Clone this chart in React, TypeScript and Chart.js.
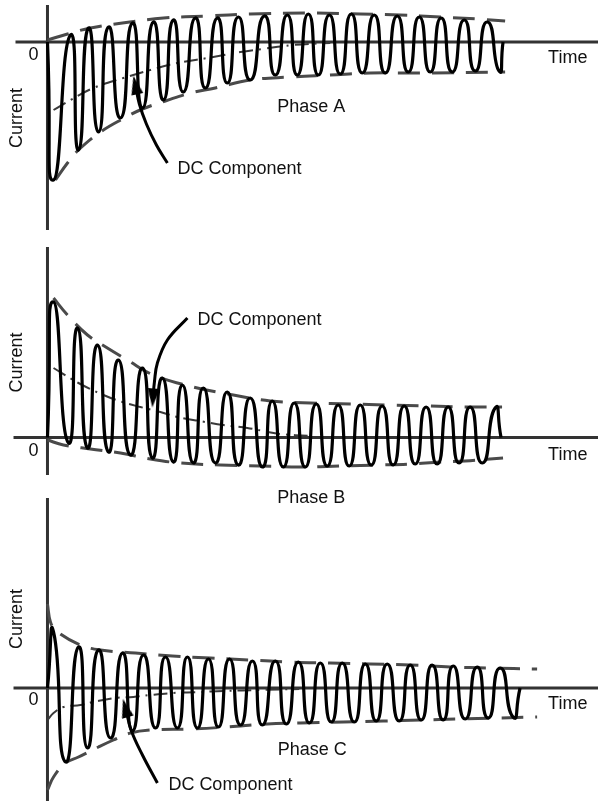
import { useEffect, useRef } from "react";
import { Chart, registerables } from "chart.js";

Chart.register(...registerables);

type P = [number, number]; // [time ms, current pu]

// ---------- Phase A ----------
const phaseAWave: P[] = [
  [0, 0], [5.5, -2.76], [20.9, 0.14], [28.2, -2.16], [37.3, 0.28], [46.4, -1.8], [55.5, 0.3],
  [66.4, -1.52], [77.3, 0.38], [86.4, -1.32], [96.4, 0.4], [105.5, -1.16], [114.5, 0.44],
  [123.6, -1.0], [134.5, 0.48], [143.6, -0.92], [154.5, 0.48], [163.6, -0.82], [173.6, 0.5],
  [184.5, -0.76], [197.3, 0.52], [207.3, -0.66], [218.2, 0.54], [227.3, -0.66], [237.3, 0.56],
  [246.4, -0.66], [256.4, 0.54], [266.4, -0.64], [276.4, 0.56], [286.4, -0.62], [297.3, 0.54],
  [307.3, -0.62], [318.2, 0.52], [328.2, -0.6], [338.2, 0.5], [348.2, -0.6], [358.2, 0.48],
  [368.2, -0.6], [379.1, 0.44], [389.1, -0.58], [400.0, 0.4], [410.9, -0.58], [414.5, 0],
];
const phaseAUpper: P[] = [
  [0, 0.04], [18.2, 0.16], [39.1, 0.28], [68.2, 0.38], [105.5, 0.48], [145.5, 0.52], [184.5, 0.56],
  [239.1, 0.58], [284.5, 0.56], [320.9, 0.54], [357.3, 0.5], [390.9, 0.46], [416.4, 0.42],
];
const phaseALower: P[] = [
  [7.3, -2.76], [18.2, -2.42], [28.2, -2.16], [48.2, -1.8], [68.2, -1.54], [86.4, -1.34],
  [107.3, -1.18], [130.0, -1.02], [152.7, -0.92], [184.5, -0.76], [220.9, -0.7], [257.3, -0.66],
  [293.6, -0.62], [339.1, -0.62], [416.4, -0.6],
];
const phaseADC: P[] = [
  [5.5, -1.36], [20.9, -1.16], [41.8, -0.92], [69.1, -0.72], [93.6, -0.56], [118.2, -0.42],
  [145.5, -0.32], [175.5, -0.2], [195.5, -0.14], [223.6, -0.06], [257.3, -0.02],
];
const phaseAArrow: P[] = [[109.1, -2.42], [99.1, -2.06], [90.0, -1.64], [83.6, -1.24], [80.0, -0.86]];

// ---------- Phase B ----------
const phaseBWave: P[] = [
  [0, 0], [5.5, 2.71], [19.1, -0.11], [27.3, 2.19], [36.4, -0.21], [45.5, 1.85], [55.5, -0.29],
  [64.5, 1.55], [75.5, -0.35], [86.4, 1.39], [95.5, -0.41], [104.5, 1.19], [114.5, -0.49],
  [122.7, 1.05], [132.7, -0.51], [141.8, 0.99], [152.7, -0.51], [163.6, 0.91], [173.6, -0.55],
  [184.5, 0.79], [195.5, -0.59], [204.5, 0.73], [214.5, -0.59], [224.5, 0.69], [234.5, -0.59],
  [244.5, 0.67], [254.5, -0.57], [264.5, 0.65], [274.5, -0.57], [284.5, 0.65], [294.5, -0.55],
  [304.5, 0.63], [314.5, -0.55], [324.5, 0.63], [334.5, -0.53], [344.5, 0.61], [354.5, -0.53],
  [364.5, 0.61], [374.5, -0.51], [384.5, 0.61], [395.5, -0.51], [407.3, 0.59], [412.7, 0],
];
const phaseBUpper: P[] = [
  [5.5, 2.79], [18.2, 2.45], [36.4, 2.05], [54.5, 1.79], [72.7, 1.55], [96.4, 1.25], [132.7, 1.01],
  [169.1, 0.85], [202.7, 0.73], [239.1, 0.69], [275.5, 0.67], [309.1, 0.65], [345.5, 0.63],
  [380.0, 0.61], [413.6, 0.61],
];
const phaseBLower: P[] = [
  [0, -0.05], [14.5, -0.15], [39.1, -0.23], [66.4, -0.31], [93.6, -0.43], [120.9, -0.51],
  [157.3, -0.55], [193.6, -0.57], [230.0, -0.59], [266.4, -0.57], [302.7, -0.55], [330.0, -0.53],
  [357.3, -0.49], [380.0, -0.47], [402.7, -0.43], [414.5, -0.41],
];
const phaseBDC: P[] = [
  [5.5, 1.39], [28.2, 1.09], [50.9, 0.85], [68.2, 0.71], [84.5, 0.61], [102.7, 0.51], [118.2, 0.41],
  [143.6, 0.31], [160.0, 0.25], [181.8, 0.19], [196.4, 0.13], [211.8, 0.07], [239.1, 0.03],
];
const phaseBArrow: P[] = [[127.3, 2.39], [109.1, 1.95], [100.0, 1.49], [97.3, 1.11], [96.0, 0.79]];

// ---------- Phase C ----------
const phaseCWave: P[] = [
  [0, 0], [5.5, 1.12], [16.4, -1.48], [28.2, 0.82], [36.4, -1.2], [46.4, 0.76], [57.3, -1.0],
  [68.2, 0.7], [77.3, -0.86], [87.3, 0.66], [98.2, -0.8], [107.3, 0.62], [118.2, -0.8],
  [127.3, 0.62], [136.4, -0.8], [146.4, 0.58], [155.5, -0.78], [165.5, 0.58], [175.5, -0.74],
  [186.4, 0.54], [195.5, -0.74], [207.3, 0.54], [217.3, -0.72], [228.2, 0.52], [238.2, -0.7],
  [248.2, 0.5], [258.2, -0.68], [268.2, 0.5], [279.1, -0.68], [289.1, 0.48], [299.1, -0.66],
  [309.1, 0.48], [320.0, -0.66], [330.0, 0.46], [340.0, -0.64], [350.0, 0.46], [360.0, -0.64],
  [369.1, 0.44], [380.0, -0.62], [390.9, 0.42], [400.9, -0.6], [411.8, 0.4], [423.6, -0.58], [430.0, 0],
];
const phaseCUpper: P[] = [
  [0, 1.68], [2.7, 1.32], [8.2, 1.14], [30.0, 0.86], [48.2, 0.76], [80.0, 0.7], [113.6, 0.64],
  [148.2, 0.6], [184.5, 0.56], [220.9, 0.52], [257.3, 0.5], [293.6, 0.48], [330.0, 0.46],
  [366.4, 0.42], [402.7, 0.4], [445.5, 0.38],
];
const phaseCLower: P[] = [
  [0, -2.04], [5.5, -1.78], [16.4, -1.5], [28.2, -1.38], [46.4, -1.18], [60.0, -1.04], [75.5, -0.9],
  [93.6, -0.84], [130.0, -0.82], [163.6, -0.78], [200.0, -0.72], [230.0, -0.7], [269.1, -0.68],
  [305.5, -0.66], [339.1, -0.64], [373.6, -0.62], [409.1, -0.6], [445.5, -0.58],
];
const phaseCDC: P[] = [
  [0, -0.64], [5.5, -0.5], [14.5, -0.38], [30.0, -0.34], [41.8, -0.28], [61.8, -0.2], [78.2, -0.18],
  [93.6, -0.14], [114.5, -0.1], [139.1, -0.08], [160.0, -0.06], [193.6, -0.04], [229.1, -0.02],
];
const phaseCArrow: P[] = [[100.0, -1.9], [86.4, -1.34], [76.4, -0.86], [70.9, -0.4]];

// ---------- texts ----------
const PHASE_NAMES = ["Phase A", "Phase B", "Phase C"];
const Y_TITLE = "Current";
const X_TITLE = "Time";
const ZERO_TICK = "0";
const DC_TEXT = "DC Component";

// ---------- scales / layout config ----------
const TIME_MIN = -43.2;
const TIME_MAX = 500.9;

const PANELS = [
  {
    axis: "yA", range: [-15.18, 0.84], wave: phaseAWave, upper: phaseAUpper, lower: phaseALower,
    dc: phaseADC, arrow: phaseAArrow, arrowRot: -12, vAxis: [0.74, -3.76], hStart: -29.1,
    nameAt: [240, -1.3], dcAt: [118.2, -2.54], zeroAt: [-12.7, -0.26], timeAt: [455.5, -0.32], currentAt: [-27.3, -1.52],
  },
  {
    axis: "yB", range: [-7.27, 8.75], wave: phaseBWave, upper: phaseBUpper, lower: phaseBLower,
    dc: phaseBDC, arrow: phaseBArrow, arrowRot: 184, vAxis: [3.81, -0.75], hStart: -30.9,
    nameAt: [240, -1.21], dcAt: [136.4, 2.35], zeroAt: [-12.7, -0.27], timeAt: [455.5, -0.35], currentAt: [-27.3, 1.5],
  },
  {
    axis: "yC", range: [-2.26, 13.76], wave: phaseCWave, upper: phaseCUpper, lower: phaseCLower,
    dc: phaseCDC, arrow: phaseCArrow, arrowRot: -15, vAxis: [3.8, -2.26], hStart: -30.9,
    nameAt: [240.9, -1.24], dcAt: [110, -1.94], zeroAt: [-12.7, -0.24], timeAt: [455.5, -0.32], currentAt: [-27.3, 1.38],
  },
];

const FONT = '18px "Liberation Sans", Arial, Helvetica, sans-serif';

function makeArrowHead(): HTMLCanvasElement {
  const c = document.createElement("canvas");
  c.width = 12;
  c.height = 19;
  const g = c.getContext("2d")!;
  g.fillStyle = "#000";
  g.beginPath();
  g.moveTo(6, 0);
  g.lineTo(12, 19);
  g.lineTo(0, 19);
  g.closePath();
  g.fill();
  return c;
}

const toXY = (pts: P[]) => pts.map(([x, y]) => ({ x, y }));

const textPlugin = {
  id: "panelText",
  afterDatasetsDraw(chart: any) {
    const ctx = chart.ctx as CanvasRenderingContext2D;
    const xs = chart.scales.x;
    ctx.save();
    ctx.fillStyle = "#111";
    ctx.font = FONT;
    ctx.textBaseline = "middle";
    PANELS.forEach((p, k) => {
      const ys = chart.scales[p.axis];
      const items: [string, number[], CanvasTextAlign, number][] = [
        [PHASE_NAMES[k], p.nameAt, "center", 0],
        [DC_TEXT, p.dcAt, "left", 0],
        [ZERO_TICK, p.zeroAt, "center", 0],
        [X_TITLE, p.timeAt, "left", 0],
        [Y_TITLE, p.currentAt, "center", -90],
      ];
      for (const [text, at, align, rot] of items) {
        ctx.save();
        ctx.translate(xs.getPixelForValue(at[0]), ys.getPixelForValue(at[1]));
        ctx.rotate((rot * Math.PI) / 180);
        ctx.textAlign = align;
        ctx.fillText(text, 0, 0);
        ctx.restore();
      }
    });
    ctx.restore();
  },
};

export default function App() {
  const ref = useRef<HTMLCanvasElement | null>(null);

  useEffect(() => {
    if (!ref.current) return;
    const head = makeArrowHead();
    const datasets: any[] = [];
    const base = { showLine: true, pointRadius: 0, fill: false };

    PANELS.forEach((p) => {
      datasets.push({
        ...base, data: toXY(p.wave), yAxisID: p.axis, borderColor: "#000", borderWidth: 3.2,
        tension: 0.75, order: 0,
      });
      datasets.push({
        ...base, data: toXY(p.arrow), yAxisID: p.axis, borderColor: "#000", borderWidth: 3, tension: 0.4,
        pointRadius: p.arrow.map((_, i) => (i === p.arrow.length - 1 ? 6 : 0)),
        pointStyle: head, pointRotation: p.arrowRot, order: 1,
      });
      datasets.push({
        ...base, data: toXY(p.upper), yAxisID: p.axis, borderColor: "#4a4a4a", borderWidth: 3,
        borderDash: [22, 12], tension: 0.4, order: 2,
      });
      datasets.push({
        ...base, data: toXY(p.lower), yAxisID: p.axis, borderColor: "#4a4a4a", borderWidth: 3,
        borderDash: [22, 12], tension: 0.4, order: 2,
      });
      datasets.push({
        ...base, data: toXY(p.dc), yAxisID: p.axis, borderColor: "#3a3a3a", borderWidth: 2,
        borderDash: [14, 6, 2, 6], tension: 0.4, order: 3,
      });
      datasets.push({
        ...base, data: [{ x: p.hStart, y: 0 }, { x: TIME_MAX, y: 0 }], yAxisID: p.axis,
        borderColor: "#333", borderWidth: 3, order: 4,
      });
      datasets.push({
        ...base, data: [{ x: 0, y: p.vAxis[0] }, { x: 0, y: p.vAxis[1] }], yAxisID: p.axis,
        borderColor: "#333", borderWidth: 3, order: 4,
      });
    });

    const scales: any = {
      x: { type: "linear", min: TIME_MIN, max: TIME_MAX, display: false },
    };
    PANELS.forEach((p) => {
      scales[p.axis] = { type: "linear", min: p.range[0], max: p.range[1], display: false };
    });

    const chart = new Chart(ref.current, {
      type: "scatter",
      data: { datasets },
      options: {
        animation: false,
        responsive: false,
        events: [],
        layout: { padding: 0, autoPadding: false },
        plugins: { legend: { display: false }, tooltip: { enabled: false }, title: { display: false } },
        scales,
      },
      plugins: [textPlugin],
    });
    return () => chart.destroy();
  }, []);

  return (
    <div style={{ position: "absolute", left: 0, top: 0, width: 598, height: 801, background: "#fff" }}>
      <canvas ref={ref} width={598} height={801} style={{ display: "block", width: 598, height: 801 }} />
    </div>
  );
}
